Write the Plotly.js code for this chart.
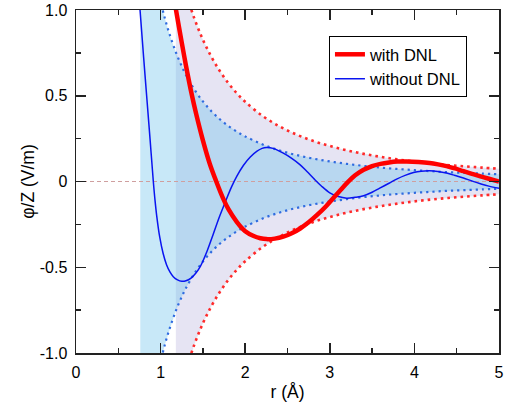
<!DOCTYPE html>
<html>
<head>
<meta charset="utf-8">
<script src="https://cdn.plot.ly/plotly-3.0.1.min.js"></script>
<style>
  html, body { margin: 0; padding: 0; background: #fff; }
  #chart { width: 505px; height: 405px; }
</style>
</head>
<body>
<div id="chart"></div>
<script>
// Potential curves phi/Z versus r, with and without DNL
const rWith = [1.15, 1.182, 1.25, 1.30, 1.367, 1.42, 1.50, 1.58, 1.658, 1.74, 1.80, 1.90, 2.00, 2.10, 2.18, 2.25, 2.35, 2.45, 2.55, 2.65, 2.75, 2.85, 2.95, 3.05, 3.13, 3.21, 3.30, 3.40, 3.50, 3.60, 3.70, 3.80, 3.91, 4.05, 4.18, 4.28, 4.38, 4.48, 4.58, 4.68, 4.78, 4.88, 5.0];
const phiWith = [1.10, 1.0, 0.81, 0.675, 0.51, 0.395, 0.24, 0.105, 0.0, -0.10, -0.16, -0.235, -0.29, -0.318, -0.331, -0.336, -0.333, -0.322, -0.302, -0.274, -0.238, -0.195, -0.147, -0.092, -0.048, -0.005, 0.036, 0.068, 0.090, 0.103, 0.111, 0.116, 0.117, 0.114, 0.108, 0.100, 0.090, 0.076, 0.060, 0.045, 0.030, 0.016, 0.0];

const rWithout = [0.74, 0.757, 0.80, 0.835, 0.875, 0.914, 0.934, 0.954, 0.99, 1.03, 1.07, 1.11, 1.15, 1.20, 1.25, 1.30, 1.36, 1.42, 1.47, 1.55, 1.62, 1.70, 1.76, 1.84, 1.90, 1.98, 2.06, 2.14, 2.20, 2.25, 2.33, 2.45, 2.55, 2.65, 2.73, 2.81, 2.90, 3.00, 3.10, 3.20, 3.30, 3.40, 3.50, 3.59, 3.70, 3.79, 3.89, 3.99, 4.08, 4.18, 4.28, 4.38, 4.48, 4.58, 4.68, 4.78, 4.88, 5.0];
const phiWithout = [1.11, 1.0, 0.72, 0.5, 0.25, 0.0, -0.11, -0.20, -0.325, -0.42, -0.485, -0.527, -0.555, -0.574, -0.582, -0.579, -0.563, -0.532, -0.495, -0.405, -0.31, -0.20, -0.125, -0.03, 0.03, 0.095, 0.143, 0.177, 0.193, 0.198, 0.193, 0.165, 0.135, 0.097, 0.058, 0.017, -0.026, -0.066, -0.088, -0.097, -0.092, -0.083, -0.063, -0.039, -0.01, 0.014, 0.036, 0.052, 0.060, 0.062, 0.058, 0.049, 0.035, 0.020, 0.003, -0.013, -0.027, -0.039];

// Envelopes (upper halves; the lower halves are their mirror images)
const rEnvBlue = [0.76, 0.80, 0.85, 0.90, 0.95, 1.00, 1.05, 1.10, 1.18, 1.25, 1.30, 1.40, 1.50, 1.60, 1.70, 1.80, 1.90, 2.00, 2.20, 2.40, 2.60, 2.80, 3.00, 3.20, 3.40, 3.60, 3.80, 4.00, 4.20, 4.40, 4.60, 4.80, 5.00];
const envBlue = [1.818, 1.641, 1.453, 1.296, 1.163, 1.05, 0.952, 0.868, 0.754, 0.672, 0.621, 0.536, 0.467, 0.410, 0.363, 0.324, 0.291, 0.263, 0.217, 0.182, 0.155, 0.134, 0.117, 0.103, 0.091, 0.081, 0.073, 0.066, 0.060, 0.054, 0.050, 0.046, 0.042];

const rEnvRed = [1.18, 1.25, 1.30, 1.40, 1.50, 1.60, 1.70, 1.80, 1.90, 2.00, 2.20, 2.40, 2.60, 2.80, 3.00, 3.20, 3.40, 3.60, 3.80, 4.00, 4.20, 4.40, 4.60, 4.80, 5.00];
const envRed = [1.336, 1.190, 1.101, 0.949, 0.827, 0.727, 0.644, 0.574, 0.515, 0.465, 0.384, 0.323, 0.275, 0.237, 0.207, 0.182, 0.161, 0.144, 0.129, 0.116, 0.105, 0.096, 0.088, 0.081, 0.074];

const xRange = [0, 5];
const yRange = [-1, 1];
const yTickVals = [-1, -0.5, 0, 0.5, 1];
const yTickText = ['-1.0', '-0.5', '0', '0.5', '1.0'];

const neg = a => a.map(v => -v);
function band(r, up) {
  return {
    x: r.concat(r.slice().reverse()),
    y: up.concat(neg(up).reverse())
  };
}

const redBand = band(rEnvRed, envRed);
const blueBand = band(rEnvBlue, envBlue);

const traces = [
  { x: redBand.x, y: redBand.y, mode: 'lines', fill: 'toself',
    fillcolor: '#e6e4f3', line: { width: 0 }, showlegend: false, hoverinfo: 'skip' },
  { x: blueBand.x, y: blueBand.y, mode: 'lines', fill: 'toself',
    fillcolor: 'rgba(102,191,236,0.36)', line: { width: 0 }, showlegend: false, hoverinfo: 'skip' },
  { x: xRange, y: [0, 0], mode: 'lines',
    line: { color: '#cf9f9f', width: 1, dash: '4px,3px' }, showlegend: false, hoverinfo: 'skip' },
  { x: rEnvRed, y: envRed, mode: 'lines', line: { color: '#ff2a2a', width: 2.6, dash: '2.6px,4px', shape: 'spline' }, showlegend: false },
  { x: rEnvRed, y: neg(envRed), mode: 'lines', line: { color: '#ff2a2a', width: 2.6, dash: '2.6px,4px', shape: 'spline' }, showlegend: false },
  { x: rEnvBlue, y: envBlue, mode: 'lines', line: { color: '#2f6be0', width: 2.2, dash: '2.2px,4px', shape: 'spline' }, showlegend: false },
  { x: rEnvBlue, y: neg(envBlue), mode: 'lines', line: { color: '#2f6be0', width: 2.2, dash: '2.2px,4px', shape: 'spline' }, showlegend: false },
  { x: rWithout, y: phiWithout, mode: 'lines', name: 'without DNL', legendrank: 2,
    line: { color: '#0a14f0', width: 1.5, shape: 'spline' } },
  { x: rWith, y: phiWith, mode: 'lines', name: 'with DNL', legendrank: 1,
    line: { color: '#ff0000', width: 4.5, shape: 'spline' } }
];

const axisCommon = {
  showgrid: false, zeroline: false,
  showline: true, linecolor: '#222', linewidth: 1.5, mirror: 'allticks',
  ticks: 'inside', ticklen: 10, tickwidth: 1.5, tickcolor: '#222',
  tickfont: { family: 'Liberation Sans, Arial, sans-serif', size: 16, color: '#000' }
};

const layout = {
  width: 505, height: 405,
  margin: { l: 76, r: 6, t: 10, b: 52 },
  paper_bgcolor: '#fff', plot_bgcolor: '#fff',
  font: { family: 'Liberation Sans, Arial, sans-serif', color: '#000' },
  hovermode: false,
  xaxis: Object.assign({}, axisCommon, {
    range: xRange, dtick: 1, tick0: 0,
    ticklabelstandoff: 4,
    minor: { dtick: 0.5, ticklen: 5, tickwidth: 1.5, tickcolor: '#222', ticks: 'inside', showgrid: false },
    title: { text: 'r (Å)', font: { size: 17.5 }, standoff: 6 }
  }),
  yaxis: Object.assign({}, axisCommon, {
    range: yRange, tickvals: yTickVals, ticktext: yTickText,
    ticklabelstandoff: 4,
    minor: { tickvals: [-0.75, -0.25, 0.25, 0.75], ticklen: 5, tickwidth: 1.5, tickcolor: '#222', ticks: 'inside', showgrid: false },
    title: { text: 'φ/Z (V/m)', font: { size: 17.5 }, standoff: 0 }
  }),
  showlegend: true,
  legend: {
    x: 0.598, y: 0.924, xanchor: 'left', yanchor: 'top',
    bgcolor: '#fff', bordercolor: '#000', borderwidth: 1,
    font: { family: 'Liberation Sans, Arial, sans-serif', size: 16.5, color: '#000' },
    tracegroupgap: 0
  }
};

Plotly.newPlot('chart', traces, layout, { displayModeBar: false, staticPlot: true });
</script>
</body>
</html>
